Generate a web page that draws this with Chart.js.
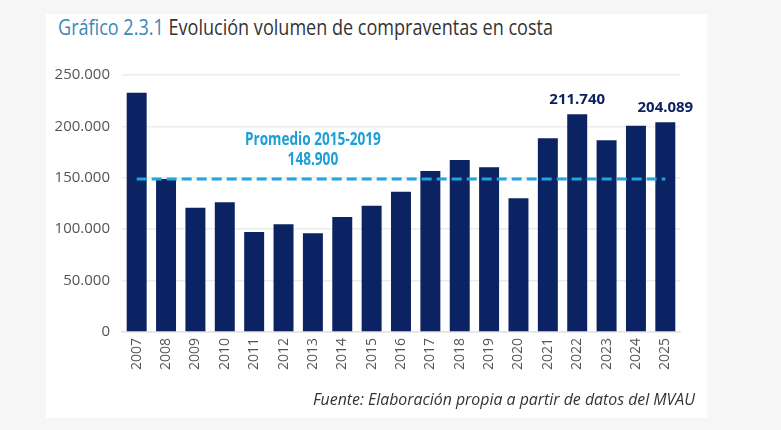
<!DOCTYPE html>
<html>
<head>
<meta charset="utf-8">
<script src="https://cdn.jsdelivr.net/npm/chart.js@4.4.0/dist/chart.umd.min.js"></script>
<style>
  html, body { margin: 0; padding: 0; }
  body { width: 781px; height: 430px; background: #f6f6f6; position: relative; overflow: hidden; }
  #card { position: absolute; left: 46px; top: 14px; width: 661px; height: 404px; background: #fff; }
  #chart-wrap { position: absolute; left: 0; top: 0; width: 781px; height: 430px; }
  .fit { position: absolute; white-space: nowrap; font-family: "Open Sans", sans-serif; transform-origin: 0 0; }
  #title { left: 58px; top: 13px; font-size: 21px; color: #333; }
  #title .num { color: #3a88b6; }
  #source { left: 313px; top: 388px; font-style: italic; font-size: 16px; color: #333; }
</style>
</head>
<body>
<div id="card"></div>
<div id="title" class="fit" data-w="495"><span class="num">Gráfico 2.3.1</span> Evolución volumen de compraventas en costa</div>
<div id="chart-wrap"><canvas id="chart" width="781" height="430"></canvas></div>
<div id="source" class="fit" data-w="382">Fuente: Elaboración propia a partir de datos del MVAU</div>
<script>
const years = ["2007", "2008", "2009", "2010", "2011", "2012", "2013", "2014", "2015", "2016",
  "2017", "2018", "2019", "2020", "2021", "2022", "2023", "2024", "2025"];
const compraventas = [232800, 148800, 120900, 126200, 97300, 104800, 96000, 111900, 122900, 136500,
  156600, 167300, 160200, 130000, 188400, 211740, 186500, 200700, 204089];
const promedio = 148900;
const promedioLabel = ["Promedio 2015-2019", "148.900"];
const promedioLabelYear = "2013";
const labeledYears = ["2022", "2025"];
const yTicks = [0, 50000, 100000, 150000, 200000, 250000];

const fmt = (v) => String(v).replace(/\B(?=(\d{3})+(?!\d))/g, ".");

// squeeze the html texts to the condensed width of the original
document.querySelectorAll(".fit").forEach((el) => {
  const w = el.getBoundingClientRect().width;
  el.style.transform = `scaleX(${el.dataset.w / w})`;
});

const labelsPlugin = {
  id: "labelsPlugin",
  afterDatasetsDraw(chart) {
    const ctx = chart.ctx;
    const x = chart.scales.x;
    const y = chart.scales.y;
    ctx.save();
    // value labels above selected bars
    ctx.fillStyle = "#0d2260";
    ctx.font = "bold 15px 'Noto Sans', sans-serif";
    ctx.textAlign = "center";
    ctx.textBaseline = "bottom";
    labeledYears.forEach((yr) => {
      const i = years.indexOf(yr);
      ctx.fillText(fmt(compraventas[i]), x.getPixelForValue(i), y.getPixelForValue(compraventas[i]) - 7);
    });
    // average annotation (condensed)
    ctx.fillStyle = "#1c9fd6";
    ctx.font = "bold 17px 'Open Sans', sans-serif";
    ctx.textBaseline = "middle";
    const ax = x.getPixelForValue(years.indexOf(promedioLabelYear));
    const ay = y.getPixelForValue(promedio);
    const sx = 136 / ctx.measureText(promedioLabel[0]).width;
    ctx.translate(ax, ay);
    ctx.scale(sx, 1);
    ctx.fillText(promedioLabel[0], 0, -39);
    ctx.fillText(promedioLabel[1], 0, -19);
    ctx.restore();
  },
};

const ctx = document.getElementById("chart").getContext("2d");
const myChart = new Chart(ctx, {
  data: {
    labels: years,
    datasets: [
      {
        type: "line",
        label: "Promedio 2015-2019",
        data: years.map(() => promedio),
        borderColor: "#1fa6de",
        borderWidth: 3,
        borderDash: [10, 5],
        pointRadius: 0,
        fill: false,
        order: 0,
      },
      {
        type: "bar",
        label: "Compraventas",
        data: compraventas,
        backgroundColor: "#0b2362",
        barPercentage: 0.68,
        categoryPercentage: 1,
        order: 1,
      },
    ],
  },
  options: {
    responsive: false,
    animation: false,
    layout: { padding: { left: 46, right: 101, top: 75, bottom: 48 } },
    plugins: { legend: { display: false }, tooltip: { enabled: false } },
    scales: {
      x: {
        grid: { display: false, drawTicks: false },
        border: { display: true, color: "#e3e3e3", width: 1.5 },
        ticks: {
          color: "#555",
          font: { size: 14, family: "'Open Sans', sans-serif" },
          maxRotation: 90,
          minRotation: 90,
          padding: 6,
          autoSkip: false,
        },
        afterFit: (s) => { s.height = 50; },
      },
      y: {
        min: 0,
        max: 250000,
        afterBuildTicks: (s) => { s.ticks = yTicks.map((v) => ({ value: v })); },
        grid: { color: "#ececec", drawTicks: false, lineWidth: 1.5 },
        border: { display: false },
        ticks: {
          color: "#555",
          font: { size: 15, family: "'Open Sans', sans-serif" },
          padding: 12,
          callback: (v) => fmt(v),
        },
        afterFit: (s) => { s.width = 76; },
      },
    },
  },
  plugins: [labelsPlugin],
});
</script>
</body>
</html>
